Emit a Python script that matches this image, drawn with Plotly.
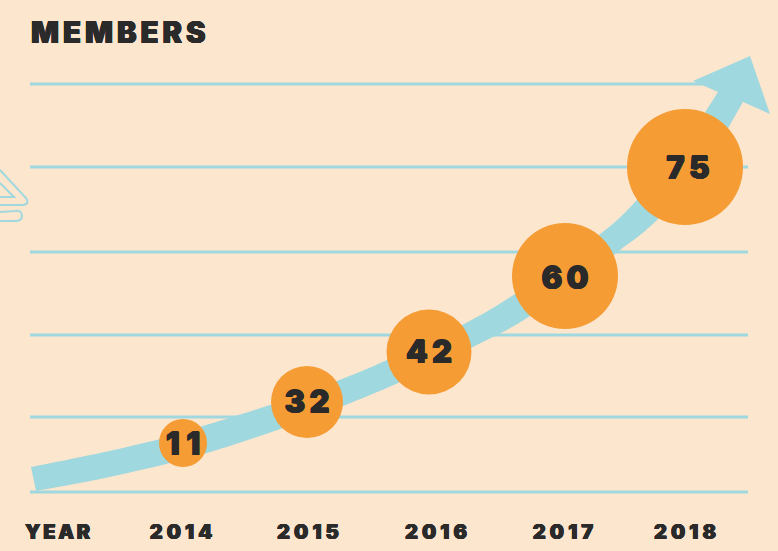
import plotly.graph_objects as go

# ---- data ----
years = ["2014", "2015", "2016", "2017", "2018"]
members = [11, 32, 42, 60, 75]

# ---- layout helpers (page pixels: x from left, h above the baseline) ----
BASE = 492
def h(y):
    return BASE - y

bubble_x = [183, 307, 429, 565, 685]
bubble_h = [h(443), h(402), h(352), h(276), h(167)]
bubble_d = [48, 72, 85, 106, 116]
value_x = [183, 307, 429, 565, 688]
value_h = [h(447), h(405), h(355), h(281), h(171)]
year_x = [181, 308, 436, 563, 685]
grid_h = [h(492), h(417), h(335), h(252), h(167), h(84)]

BG = "#FDE6CE"
TEAL = "#A0D8DF"
ORANGE = "#F59C34"
INK = "#2A2A2A"
FONT = "Inter"
HAIR = "\u200a"
THIN = "\u2009"
HEAVY = f"0.5px 0 0 {INK}, -0.5px 0 0 {INK}, 0 0.4px 0 {INK}, 0 -0.4px 0 {INK}"

def spaced(s, sep=HAIR):
    return sep.join(s)

def P(x, y):
    return f"{x},{h(y)}"

def smooth(pts):
    """Catmull-Rom through pts as SVG cubic segments (no leading M)."""
    out = []
    n = len(pts)
    for i in range(n - 1):
        p0 = pts[max(i - 1, 0)]
        p1 = pts[i]
        p2 = pts[i + 1]
        p3 = pts[min(i + 2, n - 1)]
        c1 = (p1[0] + (p2[0] - p0[0]) / 6, p1[1] + (p2[1] - p0[1]) / 6)
        c2 = (p2[0] - (p3[0] - p1[0]) / 6, p2[1] - (p3[1] - p1[1]) / 6)
        out.append(f"C {P(*c1)} {P(*c2)} {P(*p2)}")
    return " ".join(out)

upper_edge = [(31, 467), (100, 453), (160, 439), (200, 427), (270, 405), (337, 381), (387, 360),
              (462, 325), (515, 294), (599, 235), (637, 200), (680, 150), (718, 92)]
lower_edge = [(743, 102), (705, 165), (657, 220), (616, 253), (530, 316), (473, 347), (398, 383),
              (343, 406), (283, 428), (217, 450), (170, 463), (100, 479), (36, 491)]
arrow = ("M " + P(*upper_edge[0]) + " " + smooth(upper_edge) +
         " L " + P(693, 81) + " L " + P(750, 56) + " L " + P(770, 114) +
         " L " + P(*lower_edge[0]) + " " + smooth(lower_edge) + " Z")

icon = [
    "M " + P(0, 170) + " L " + P(26, 198) + " Q " + P(30, 204) + " " + P(23, 205) + " L " + P(0, 205),
    "M " + P(0, 183) + " L " + P(14, 197) + " L " + P(0, 197),
    "M " + P(0, 212) + " L " + P(15, 211) + " Q " + P(22, 210) + " " + P(22, 216) + " Q " + P(22, 221) + " " + P(15, 221) + " L " + P(0, 221),
]

fig = go.Figure()

for g in grid_h:
    fig.add_trace(go.Scatter(x=[30, 748], y=[g, g], mode="lines",
                             line=dict(color=TEAL, width=2.8), hoverinfo="skip", showlegend=False))

fig.add_trace(go.Scatter(x=bubble_x, y=bubble_h, mode="markers",
                         marker=dict(size=bubble_d, sizemode="diameter", color=ORANGE, opacity=1, line=dict(width=0)),
                         customdata=members, showlegend=False))
fig.add_trace(go.Scatter(x=value_x, y=value_h, mode="text",
                         text=[spaced(str(m), THIN + HAIR if m == 11 else THIN) for m in members],
                         textposition="middle center",
                         textfont=dict(family=FONT, size=31, color=INK, weight=900, shadow=HEAVY), showlegend=False))
fig.add_trace(go.Scatter(x=year_x, y=[h(534)] * 5, mode="text",
                         text=[spaced(y, HAIR * 3) for y in years], textposition="middle center",
                         textfont=dict(family=FONT, size=20, color=INK, weight=900, shadow=HEAVY), showlegend=False))

shapes = [dict(type="path", path=arrow, fillcolor=TEAL, line=dict(width=0), layer="between")]
shapes += [dict(type="path", path=p, line=dict(color=TEAL, width=2), layer="below") for p in icon]

fig.update_layout(
    width=778, height=551, margin=dict(l=0, r=0, t=0, b=0),
    paper_bgcolor=BG, plot_bgcolor=BG, showlegend=False,
    xaxis=dict(range=[0, 778], visible=False, fixedrange=True),
    yaxis=dict(range=[h(551), h(0)], visible=False, fixedrange=True),
    shapes=shapes,
    annotations=[
        dict(x=29, y=h(32), xanchor="left", yanchor="middle", showarrow=False, text=spaced("MEMBERS", HAIR * 2),
             font=dict(family=FONT, size=29.3, color=INK, weight=900, shadow=HEAVY)),
        dict(x=58, y=h(532), xanchor="center", yanchor="middle", showarrow=False, text=spaced("YEAR", HAIR * 2),
             font=dict(family=FONT, size=20, color=INK, weight=900, shadow=HEAVY)),
    ],
)
fig.write_html("out.html", config=dict(displayModeBar=False),
               post_script="document.body.style.margin='0';document.body.style.background='#FDE6CE';document.body.style.overflow='hidden';")
